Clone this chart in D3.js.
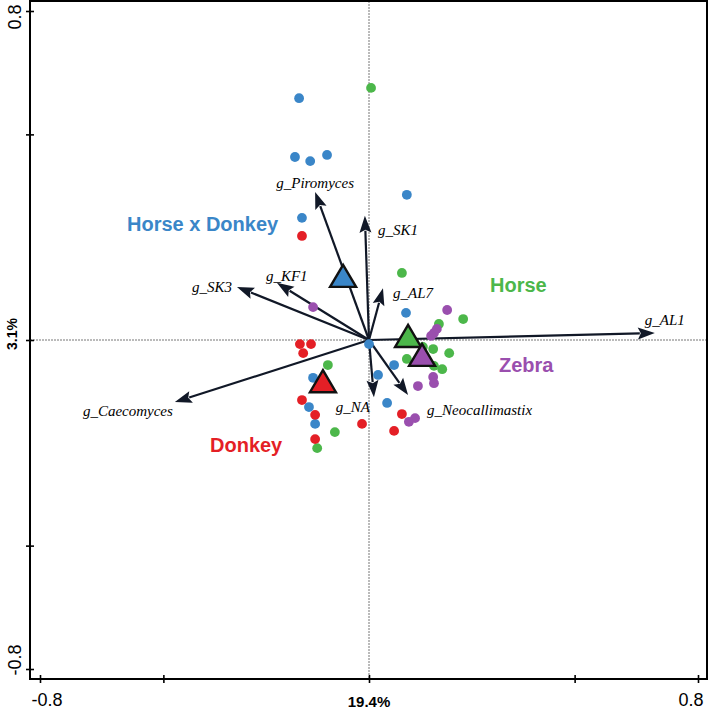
<!DOCTYPE html>
<html><head><meta charset="utf-8">
<script src="https://cdn.jsdelivr.net/npm/d3@7"></script>
<style>body{margin:0;background:#fff}svg{display:block}</style>
</head><body>
<svg id="c" width="709" height="710"></svg>
<script>
// ---- data ----
const groups = ["Horse x Donkey", "Horse", "Zebra", "Donkey"];
const groupColors = ["#3a86c8", "#4cb74a", "#9a4fae", "#e41f26"];
const bluePts = [[-0.170,0.588],[-0.180,0.445],[-0.143,0.435],[-0.102,0.450],[0.092,0.353],[-0.163,0.297],[0.090,0.066],[0.000,-0.010],[0.061,-0.061],[-0.136,-0.092],[0.022,-0.085],[-0.146,-0.163],[0.044,-0.153],[-0.131,-0.204]];
const greenPts = [[0.005,0.613],[0.080,0.163],[0.229,0.051],[0.170,0.039],[0.131,-0.017],[0.156,-0.022],[0.195,-0.032],[0.092,-0.046],[0.158,-0.063],[0.178,-0.071],[-0.100,-0.061],[-0.083,-0.224],[-0.126,-0.263]];
const purplePts = [[-0.136,0.080],[0.190,0.073],[0.165,0.027],[0.158,0.017],[0.151,0.010],[0.156,-0.090],[0.158,-0.105],[0.119,-0.112],[0.112,-0.190],[0.097,-0.199]];
const redPts = [[-0.163,0.253],[-0.168,-0.010],[-0.141,-0.010],[-0.160,-0.032],[-0.163,-0.146],[-0.131,-0.182],[0.080,-0.180],[-0.017,-0.204],[0.061,-0.221],[-0.131,-0.241]];
const centroids = [[-0.063,0.151],[0.095,0.005],[0.129,-0.041],[-0.112,-0.105]];
const arrowNames = ["g_AL1","g_Piromyces","g_SK1","g_SK3","g_KF1","g_AL7","g_NA","g_Neocallimastix","g_Caecomyces"];
const arrowX = [0.695,-0.131,-0.010,-0.321,-0.224,0.034,0.012,0.095,-0.472];
const arrowY = [0.017,0.360,0.302,0.129,0.139,0.126,-0.139,-0.134,-0.151];
const xTicks = [-0.8,-0.5,0,0.5,0.8];
const yTicks = [-0.8,-0.5,0,0.5,0.8];
const xAxisLabel = "19.4%";
const yAxisLabel = "3.1%";

// ---- layout ----
const svg = d3.select("#c");
const x = d3.scaleLinear().domain([-0.8,0.8]).range([40,698]);
const y = d3.scaleLinear().domain([-0.8,0.8]).range([669,11]);
const fL = 30, fR = 707, fT = 1, fB = 679;

// dotted zero lines
svg.append("line").attr("x1",x(0)).attr("x2",x(0)).attr("y1",fT).attr("y2",fB)
  .attr("stroke","#777").attr("stroke-width",1).attr("stroke-dasharray","2,1");
svg.append("line").attr("x1",fL).attr("x2",fR).attr("y1",y(0)).attr("y2",y(0))
  .attr("stroke","#777").attr("stroke-width",1).attr("stroke-dasharray","2,1");

// frame
svg.append("rect").attr("x",fL).attr("y",fT).attr("width",fR-fL).attr("height",fB-fT)
  .attr("fill","none").attr("stroke","#000").attr("stroke-width",2);

// axes (ticks crossing frame)
const xa = svg.append("g").attr("transform",`translate(0,${fB})`)
  .call(d3.axisBottom(x).tickValues(xTicks).tickSize(4).tickFormat(""));
xa.select(".domain").remove();
xa.selectAll(".tick line").attr("y1",-4).attr("y2",4).attr("stroke-width",1.6);
const ya = svg.append("g").attr("transform",`translate(${fL},0)`)
  .call(d3.axisLeft(y).tickValues(yTicks).tickSize(4).tickFormat(""));
ya.select(".domain").remove();
ya.selectAll(".tick line").attr("x1",-4).attr("x2",4).attr("stroke-width",1.6);

const sans = "Liberation Sans, Arial, sans-serif";
svg.append("text").attr("x",x(-0.8)+7).attr("y",706).attr("text-anchor","middle")
  .attr("font-family",sans).attr("font-size",18).text("-0.8");
svg.append("text").attr("x",x(0.8)-7).attr("y",706).attr("text-anchor","middle")
  .attr("font-family",sans).attr("font-size",18).text("0.8");
svg.append("text").attr("x",x(0)).attr("y",707).attr("text-anchor","middle")
  .attr("font-family",sans).attr("font-size",15).attr("font-weight","bold").text(xAxisLabel);
svg.append("text").attr("transform",`translate(21,${y(0.8)+6}) rotate(-90)`).attr("text-anchor","middle")
  .attr("font-family",sans).attr("font-size",18).text("0.8");
svg.append("text").attr("transform",`translate(21,${y(-0.8)-9}) rotate(-90)`).attr("text-anchor","middle")
  .attr("font-family",sans).attr("font-size",18).text("-0.8");
svg.append("text").attr("transform",`translate(17,${y(0)-6}) rotate(-90)`).attr("text-anchor","middle")
  .attr("font-family",sans).attr("font-size",14).attr("font-weight","bold").text(yAxisLabel);

// arrows
const ox = x(0), oy = y(0);
const arrowG = svg.append("g");
arrowNames.forEach((n,i)=>{
  const tx = x(arrowX[i]), ty = y(arrowY[i]);
  const dx = tx-ox, dy = ty-oy, L = Math.hypot(dx,dy);
  const ux = dx/L, uy = dy/L, hl = 17, hw = 6;
  const bx = tx-ux*hl, by = ty-uy*hl;
  arrowG.append("line").attr("x1",ox).attr("y1",oy).attr("x2",bx+ux*2).attr("y2",by+uy*2)
    .attr("stroke","#111827").attr("stroke-width",2.2);
  arrowG.append("path").attr("d",`M${tx},${ty}L${bx-uy*hw},${by+ux*hw}L${bx+ux*3},${by+uy*3}L${bx+uy*hw},${by-ux*hw}Z`)
    .attr("fill","#111827");
});
const labelOff = {
  "g_AL1":[-10,-8,"start"], "g_Piromyces":[0,-4,"middle"], "g_SK1":[13,19,"start"],
  "g_SK3":[-5,5,"end"], "g_KF1":[-11,-2,"start"], "g_AL7":[10,10,"start"],
  "g_NA":[-4,15,"end"], "g_Neocallimastix":[19,20,"start"], "g_Caecomyces":[-2,14,"end"]
};
arrowNames.forEach((n,i)=>{
  const o = labelOff[n];
  svg.append("text").attr("x",x(arrowX[i])+o[0]).attr("y",y(arrowY[i])+o[1])
    .attr("text-anchor",o[2]).attr("font-family","Liberation Serif, Times New Roman, serif")
    .attr("font-style","italic").attr("font-size",15).text(n);
});

// points
const ptSets = [bluePts, greenPts, purplePts, redPts];
[0,1,2,3].forEach(gi=>{
  svg.append("g").selectAll("circle").data(ptSets[gi]).join("circle")
    .attr("cx",d=>x(d[0])).attr("cy",d=>y(d[1])).attr("r",4.9)
    .attr("fill",groupColors[gi]);
});

// centroid triangles
centroids.forEach((c,i)=>{
  const cx = x(c[0]), cy = y(c[1]);
  svg.append("path").attr("d",`M${cx},${cy-13}L${cx+13},${cy+9}L${cx-13},${cy+9}Z`)
    .attr("fill",groupColors[i]).attr("stroke","#111").attr("stroke-width",2.4).attr("stroke-linejoin","miter");
});

// group labels
const groupLabelPos = [[127,231],[490,292],[499,372],[210,452]];
groups.forEach((g,i)=>{
  svg.append("text").attr("x",groupLabelPos[i][0]).attr("y",groupLabelPos[i][1])
    .attr("font-family",sans).attr("font-weight","bold").attr("font-size",20)
    .attr("fill",groupColors[i]).text(g);
});
</script>
</body></html>
